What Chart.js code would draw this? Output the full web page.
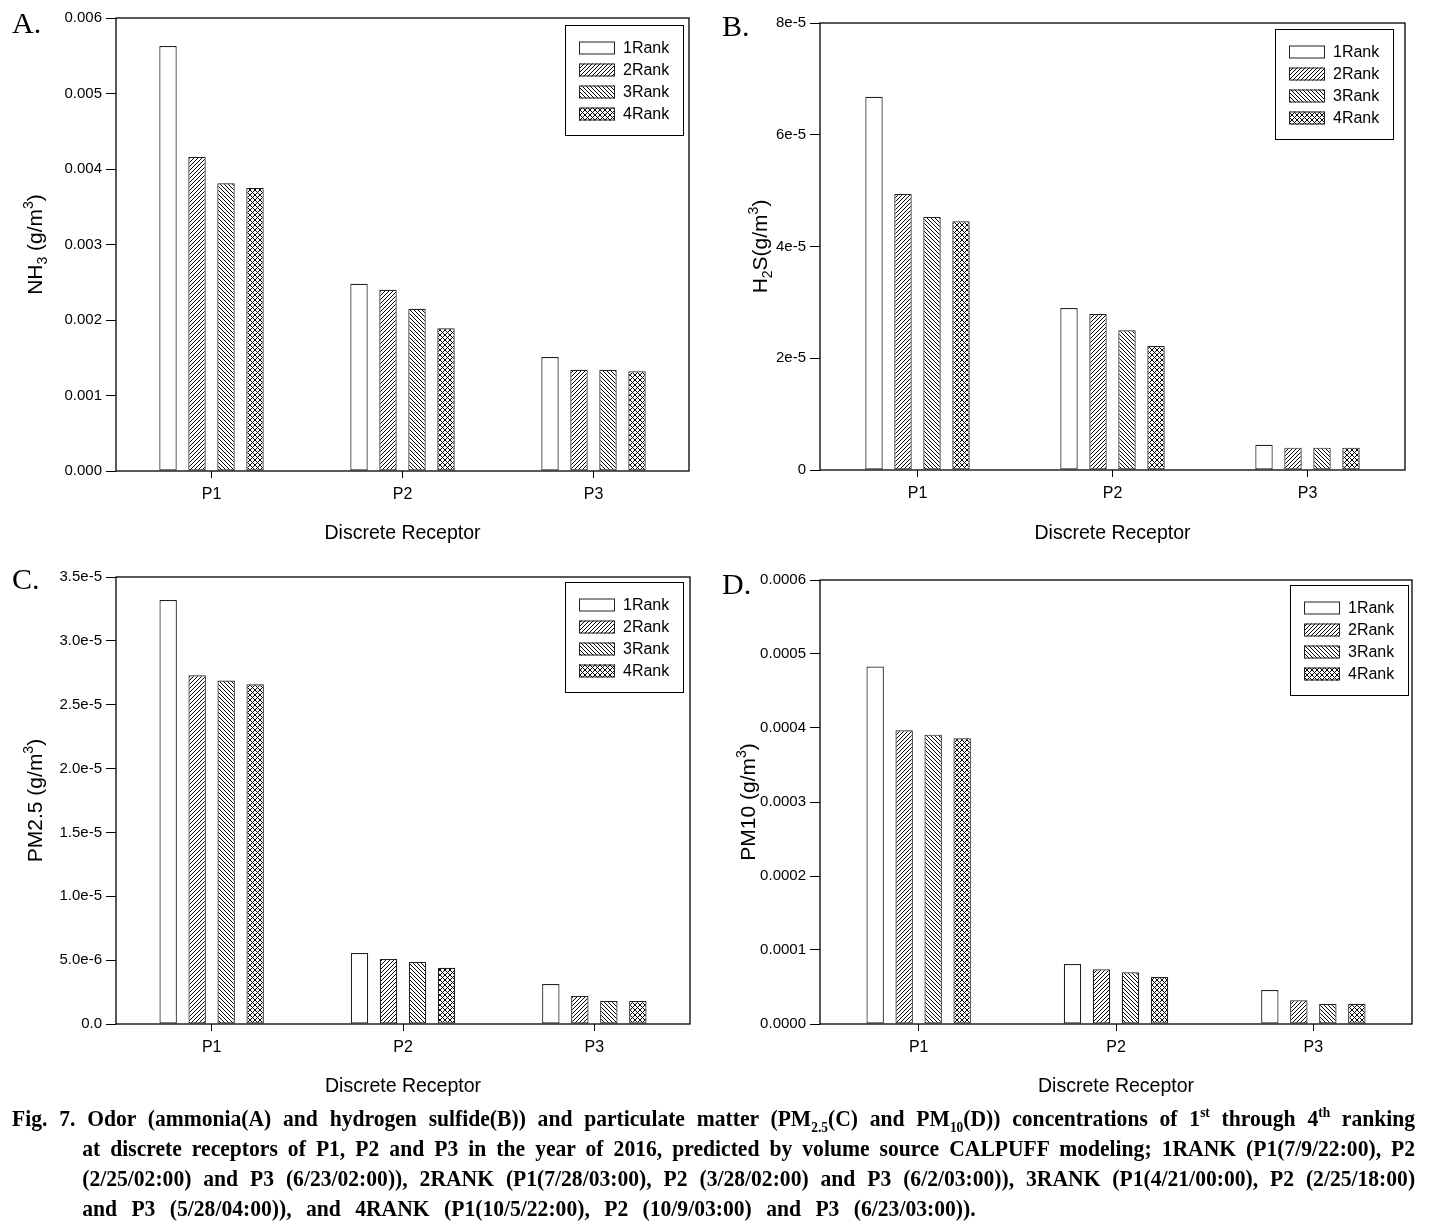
<!DOCTYPE html>
<html>
<head>
<meta charset="utf-8">
<script src="https://cdn.jsdelivr.net/npm/chart.js@4.4.0/dist/chart.umd.min.js"></script>
<style>
body { margin: 0; background: #fff; }
#wrap { position: relative; width: 1434px; height: 1225px; overflow: hidden; }
canvas { position: absolute; }
.letter { position: absolute; font-family: "Liberation Serif", serif; font-size: 30px; color: #000; }
#caption { position: absolute; left: 12px; top: 1103px; width: 1403px; z-index: 5; }
#capInner { width: 1559px; transform: scaleX(0.9); transform-origin: left top;
  font-family: "Liberation Serif", serif; font-weight: bold; font-size: 24px; line-height: 30px; color: #000; }
.ln { text-align: justify; text-align-last: justify; }
.ind { padding-left: 78px; }
.last { text-align: left; text-align-last: left; word-spacing: 10px; }
sub, sup { font-size: 0.62em; line-height: 0; }
</style>
</head>
<body>
<div id="wrap">
  <canvas id="cA" width="717" height="560" style="left:0;top:0"></canvas>
  <canvas id="cB" width="717" height="560" style="left:717px;top:0"></canvas>
  <canvas id="cC" width="717" height="560" style="left:0;top:550px"></canvas>
  <canvas id="cD" width="717" height="560" style="left:717px;top:550px"></canvas>
  <div class="letter" style="left:12px;top:6px">A.</div>
  <div class="letter" style="left:722px;top:9px">B.</div>
  <div class="letter" style="left:12px;top:562px">C.</div>
  <div class="letter" style="left:722px;top:567px">D.</div>
  <div id="caption"><div id="capInner">
    <div class="ln">Fig. 7. Odor (ammonia(A) and hydrogen sulfide(B)) and particulate matter (PM<sub>2.5</sub>(C) and PM<sub>10</sub>(D)) concentrations of 1<sup>st</sup> through 4<sup>th</sup> ranking</div>
    <div class="ln ind">at discrete receptors of P1, P2 and P3 in the year of 2016, predicted by volume source CALPUFF modeling; 1RANK (P1(7/9/22:00), P2</div>
    <div class="ln ind">(2/25/02:00) and P3 (6/23/02:00)), 2RANK (P1(7/28/03:00), P2 (3/28/02:00) and P3 (6/2/03:00)), 3RANK (P1(4/21/00:00), P2 (2/25/18:00)</div>
    <div class="ln ind last">and P3 (5/28/04:00)), and 4RANK (P1(10/5/22:00), P2 (10/9/03:00) and P3 (6/23/03:00)).</div>
  </div></div>
</div>
<script>
// categories
var receptors = ['P1', 'P2', 'P3'];
var rankNames = ['1Rank', '2Rank', '3Rank', '4Rank'];

// A. NH3 (g/m3), values for P1, P2, P3
var nh3Rank1 = [0.00563, 0.00248, 0.00151];
var nh3Rank2 = [0.00416, 0.00240, 0.00134];
var nh3Rank3 = [0.00381, 0.00215, 0.00134];
var nh3Rank4 = [0.00375, 0.00189, 0.00132];

// B. H2S (g/m3)
var h2sRank1 = [6.68e-5, 2.90e-5, 0.45e-5];
var h2sRank2 = [4.94e-5, 2.79e-5, 0.40e-5];
var h2sRank3 = [4.53e-5, 2.50e-5, 0.40e-5];
var h2sRank4 = [4.45e-5, 2.22e-5, 0.40e-5];

// C. PM2.5 (g/m3)
var pm25Rank1 = [3.32e-5, 0.556e-5, 0.313e-5];
var pm25Rank2 = [2.73e-5, 0.509e-5, 0.22e-5];
var pm25Rank3 = [2.69e-5, 0.486e-5, 0.18e-5];
var pm25Rank4 = [2.66e-5, 0.44e-5, 0.18e-5];

// D. PM10 (g/m3)
var pm10Rank1 = [4.83e-4, 0.81e-4, 0.46e-4];
var pm10Rank2 = [3.97e-4, 0.74e-4, 0.32e-4];
var pm10Rank3 = [3.91e-4, 0.70e-4, 0.27e-4];
var pm10Rank4 = [3.86e-4, 0.635e-4, 0.27e-4];

// y tick values and labels
var nh3Ticks = [0, 0.001, 0.002, 0.003, 0.004, 0.005, 0.006];
var nh3Labels = ['0.000', '0.001', '0.002', '0.003', '0.004', '0.005', '0.006'];
var h2sTicks = [0, 2e-5, 4e-5, 6e-5, 8e-5];
var h2sLabels = ['0', '2e-5', '4e-5', '6e-5', '8e-5'];
var pm25Ticks = [0, 5e-6, 1e-5, 1.5e-5, 2e-5, 2.5e-5, 3e-5, 3.5e-5];
var pm25Labels = ['0.0', '5.0e-6', '1.0e-5', '1.5e-5', '2.0e-5', '2.5e-5', '3.0e-5', '3.5e-5'];
var pm10Ticks = [0, 0.0001, 0.0002, 0.0003, 0.0004, 0.0005, 0.0006];
var pm10Labels = ['0.0000', '0.0001', '0.0002', '0.0003', '0.0004', '0.0005', '0.0006'];

var FONT = "'Liberation Sans', Arial, sans-serif";

/* hatch fills */
function makePattern(kind) {
	var s = kind == 'cross' ? 5 : 4;
	var c = document.createElement('canvas');
	c.width = s; c.height = s;
	var g = c.getContext('2d');
	g.fillStyle = '#fff';
	g.fillRect(0, 0, s, s);
	g.strokeStyle = '#000';
	g.lineWidth = 1;
	g.beginPath();
	if (kind == 'fwd' || kind == 'cross') {
		g.moveTo(0, s); g.lineTo(s, 0);
		g.moveTo(-1, 1); g.lineTo(1, -1);
		g.moveTo(s - 1, s + 1); g.lineTo(s + 1, s - 1);
	}
	if (kind == 'back' || kind == 'cross') {
		g.moveTo(0, 0); g.lineTo(s, s);
		g.moveTo(s - 1, -1); g.lineTo(s + 1, 1);
		g.moveTo(-1, s - 1); g.lineTo(1, s + 1);
	}
	g.stroke();
	return g.createPattern(c, 'repeat');
}
var fills = ['#ffffff', makePattern('fwd'), makePattern('back'), makePattern('cross')];

// frame, legend box and rich y title
var panelPlugin = {
	id: 'panelPlugin',
	afterDraw: function(chart) {
		var o = chart.options.plugins.panelPlugin;
		var ctx = chart.ctx;
		var a = chart.chartArea;
		ctx.save();
		ctx.strokeStyle = '#000';
		ctx.lineWidth = 1.3;
		ctx.strokeRect(a.left, a.top, a.right - a.left, a.bottom - a.top);

		// legend
		var lx = o.legend[0], ly = o.legend[1];
		ctx.lineWidth = 1;
		ctx.fillStyle = '#fff';
		ctx.fillRect(lx, ly, 118, 110);
		ctx.strokeRect(lx + 0.5, ly + 0.5, 118, 110);
		ctx.font = '16px ' + FONT;
		ctx.textBaseline = 'middle';
		ctx.textAlign = 'left';
		chart.data.datasets.forEach(function(ds, i) {
			var cy = ly + 23 + i * 22;
			ctx.fillStyle = ds.backgroundColor;
			ctx.fillRect(lx + 14, cy - 6.5, 36, 13);
			ctx.strokeStyle = '#222';
			ctx.strokeRect(lx + 14.5, cy - 6, 35, 12);
			ctx.fillStyle = '#000';
			ctx.fillText(ds.label, lx + 58, cy + 1);
		});

		// y axis title with sub/superscripts
		var segs = o.title;
		var big = '21px ' + FONT, small = '14px ' + FONT;
		var w = 0;
		segs.forEach(function(s) { ctx.font = s.k ? small : big; w += ctx.measureText(s.t).width; });
		ctx.translate(o.titleX, (a.top + a.bottom) / 2);
		ctx.rotate(-Math.PI / 2);
		ctx.textBaseline = 'alphabetic';
		ctx.fillStyle = '#000';
		var x = -w / 2;
		segs.forEach(function(s) {
			ctx.font = s.k ? small : big;
			var dy = s.k == 'sub' ? 5 : (s.k == 'sup' ? -9 : 0);
			ctx.fillText(s.t, x, 8 + dy);
			x += ctx.measureText(s.t).width;
		});
		ctx.restore();
	}
};

function makePanel(id, series, ticks, labels, lay) {
	var plotW = 717 - lay.yW - lay.padRight;
	var datasets = series.map(function(d, i) {
		return {
			label: rankNames[i],
			data: d,
			backgroundColor: fills[i],
			borderColor: '#222',
			borderWidth: 1.2,
			borderSkipped: false,
			barPercentage: 0.6,
			categoryPercentage: 116 / (plotW / 3)
		};
	});
	return new Chart(document.getElementById(id), {
		type: 'bar',
		data: { labels: receptors, datasets: datasets },
		options: {
			responsive: false,
			animation: false,
			devicePixelRatio: 1,
			layout: { padding: { left: 0, top: lay.padTop, right: lay.padRight, bottom: 0 } },
			plugins: {
				legend: { display: false },
				tooltip: { enabled: false },
				panelPlugin: { legend: lay.legend, title: lay.title, titleX: lay.titleX }
			},
			scales: {
				x: {
					type: 'category',
					offset: true,
					border: { display: false },
					grid: { offset: false, drawOnChartArea: false, drawTicks: true, tickLength: 7, color: '#000' },
					ticks: { color: '#000', padding: 7, font: { family: FONT, size: 16 } },
					title: { display: true, text: 'Discrete Receptor', color: '#000',
						font: { family: FONT, size: 19.5 }, padding: { top: 0, bottom: lay.titlePad } },
					afterFit: function(s) { s.height = lay.xH; }
				},
				y: {
					min: 0,
					max: ticks[ticks.length - 1],
					border: { display: false },
					grid: { drawOnChartArea: false, drawTicks: true, tickLength: 10, color: '#000' },
					ticks: { color: '#000', padding: 4, autoSkip: false, font: { family: FONT, size: 15 },
						callback: function(v, i) { return labels[i]; } },
					afterBuildTicks: function(s) { s.ticks = ticks.map(function(v) { return { value: v }; }); },
					afterFit: function(s) { s.width = lay.yW; }
				}
			}
		},
		plugins: [panelPlugin]
	});
}

makePanel('cA', [nh3Rank1, nh3Rank2, nh3Rank3, nh3Rank4], nh3Ticks, nh3Labels, {
	yW: 116, padTop: 18, padRight: 28, xH: 89, titlePad: 15, legend: [565, 25], titleX: 34,
	title: [{ t: 'NH' }, { t: '3', k: 'sub' }, { t: ' (g/m' }, { t: '3', k: 'sup' }, { t: ')' }]
});
makePanel('cB', [h2sRank1, h2sRank2, h2sRank3, h2sRank4], h2sTicks, h2sLabels, {
	yW: 103, padTop: 23, padRight: 29, xH: 90, titlePad: 15, legend: [558, 29], titleX: 42,
	title: [{ t: 'H' }, { t: '2', k: 'sub' }, { t: 'S(g/m' }, { t: '3', k: 'sup' }, { t: ')' }]
});
makePanel('cC', [pm25Rank1, pm25Rank2, pm25Rank3, pm25Rank4], pm25Ticks, pm25Labels, {
	yW: 116, padTop: 27, padRight: 27, xH: 86, titlePad: 12, legend: [565, 32], titleX: 34,
	title: [{ t: 'PM2.5 (g/m' }, { t: '3', k: 'sup' }, { t: ')' }]
});
makePanel('cD', [pm10Rank1, pm10Rank2, pm10Rank3, pm10Rank4], pm10Ticks, pm10Labels, {
	yW: 103, padTop: 30, padRight: 22, xH: 86, titlePad: 12, legend: [573, 35], titleX: 30,
	title: [{ t: 'PM10 (g/m' }, { t: '3', k: 'sup' }, { t: ')' }]
});
</script>
</body>
</html>
